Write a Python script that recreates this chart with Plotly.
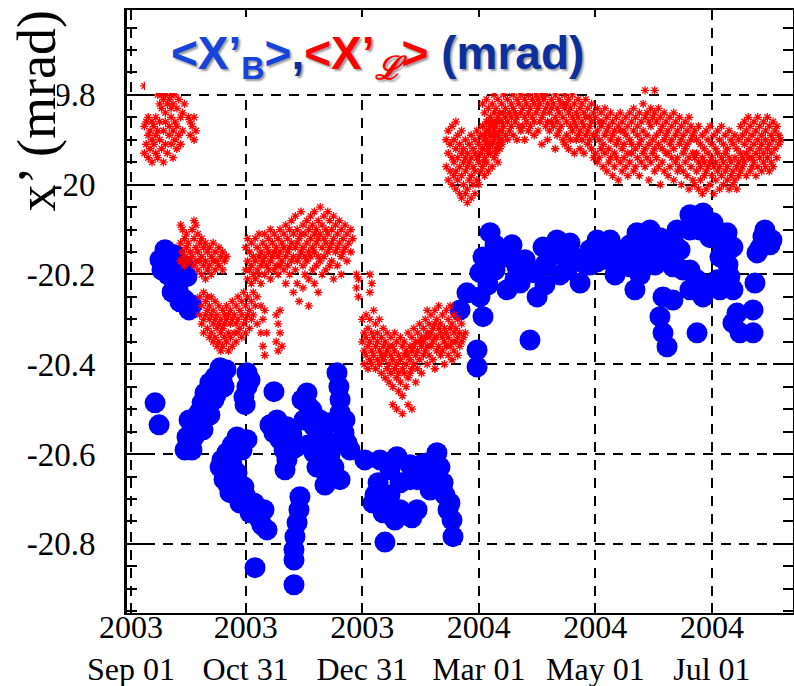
import plotly.graph_objects as go
import pandas as pd

BASE_DATE = "2003-09-01"   # day 0 of the day counts below

# ---- <X'_B> : blue points (day since 2003-09-01, value in mrad) ----
blue_day = [12.6, 14.7, 20.4, 16.2, 24.1, 29.3, 21.5, 25.6, 30.4, 17.8, 24.6,
            31.9, 33.0, 34.5, 35.6, 37.2, 38.7, 41.3, 44.0, 46.6, 47.6, 29.3, 30.4, 43.4, 48.7,
            55.5, 60.7, 50.2, 46.6, 48.7, 51.8, 57.0, 62.3, 67.5, 71.2, 64.4, 69.6, 59.1, 55.5, 50.2,
            60.7, 60.7, 59.1, 74.8, 64.9, 85.3,
            88.4, 87.9, 86.9, 85.8, 85.3, 85.3,
            76.4, 74.8, 81.6, 80.1, 81.6, 92.1, 93.1, 90.5, 95.8, 101.0, 95.8, 97.3, 102.6, 106.2,
            107.8, 108.8, 109.4, 109.4, 111.5, 113.0, 104.1, 122.4,
            132.9, 139.2, 129.3, 126.6, 131.9, 140.8, 149.7, 140.8, 149.7, 160.1, 161.7, 163.3,
            166.9, 168.0, 168.5, 154.9, 156.5, 146.0, 135.5,
            175.8, 172.2, 184.2, 181.1, 181.1, 208.8, 182.6,
            187.9, 184.2, 193.1, 182.6, 196.8, 202.0, 196.8, 203.6, 212.5, 210.4, 215.6, 219.3,
            229.7, 228.2, 235.0, 240.2, 236.5, 247.0, 252.2, 257.5, 264.8, 271.6, 271.6, 261.1,
            267.9, 285.7, 299.3, 304.6, 292.5, 287.3, 283.6, 288.9, 311.9, 315.0, 308.2, 296.2,
            292.5, 299.3, 306.7, 313.4, 315.0, 330.7, 327.6, 326.5, 263.7, 278.4, 283.6, 276.8,
            278.4, 280.5, 296.2, 317.1, 325.5, 318.7, 325.5, 315.0, 243.9, 250.7, 274.2, 334.4,
            # second reading of the dense blobs
            15.2, 23.0, 27.2, 19.4, 24.6, 28.3, 31.9,
            28.3, 30.9, 34.0, 36.1, 39.2, 40.3, 42.4, 45.5, 49.7, 37.7, 41.3, 44.5,
            52.9, 58.1, 47.6, 52.9, 50.8, 55.0, 60.2, 65.4, 68.5, 59.7, 62.3, 59.7,
            72.7, 78.0, 84.2, 85.8, 80.6, 94.7, 98.9, 99.9, 104.1, 106.7, 112.0, 114.6, 109.4, 101.5, 92.6, 89.5,
            135.5, 130.3, 146.0, 153.9, 135.5, 151.8, 158.0, 164.3, 165.9, 127.7, 138.1, 147.0,
            190.5, 199.4, 206.2, 200.9, 216.6, 224.5, 232.3, 222.9, 243.9, 249.2, 257.0, 261.1,
            266.4, 276.8, 281.0, 292.5, 297.7, 303.0, 309.8, 312.4, 292.5, 300.4, 308.2,
            331.7, 335.4, 329.2, 190.5, 186.8,
            216.6, 224.5, 240.2, 253.3, 266.4, 274.2, 284.7]
blue_val = [-20.486, -20.535, -20.163, -20.190, -20.196, -20.205, -20.239, -20.261, -20.279, -20.145, -20.172,
            -20.591, -20.562, -20.530, -20.508, -20.486, -20.464, -20.441, -20.428, -20.408, -20.435, -20.562, -20.524, -20.479, -20.450,
            -20.562, -20.568, -20.597, -20.629, -20.657, -20.686, -20.709, -20.731, -20.747, -20.769, -20.709, -20.724, -20.673, -20.642, -20.642,
            -20.419, -20.450, -20.473, -20.461, -20.853, -20.891,
            -20.695, -20.724, -20.753, -20.784, -20.813, -20.836,
            -20.524, -20.553, -20.539, -20.591, -20.613, -20.464, -20.495, -20.524, -20.539, -20.562, -20.597, -20.629, -20.651, -20.629,
            -20.419, -20.450, -20.479, -20.508, -20.553, -20.575, -20.530, -20.613,
            -20.796, -20.606, -20.664, -20.709, -20.731, -20.724, -20.724, -20.664, -20.657, -20.597, -20.629, -20.664,
            -20.709, -20.747, -20.784, -20.620, -20.680, -20.624, -20.691,
            -20.241, -20.279, -20.294, -20.368, -20.406, -20.346, -20.250,
            -20.107, -20.161, -20.161, -20.196, -20.161, -20.183, -20.234, -20.219, -20.250, -20.196, -20.139, -20.161,
            -20.130, -20.190, -20.219, -20.145, -20.174, -20.130, -20.161, -20.145, -20.107, -20.101, -20.161, -20.183,
            -20.130, -20.101, -20.063, -20.085, -20.101, -20.145, -20.183, -20.190, -20.107, -20.139, -20.161, -20.212,
            -20.234, -20.250, -20.212, -20.205, -20.234, -20.116, -20.152, -20.219, -20.234, -20.250, -20.257, -20.294,
            -20.330, -20.361, -20.330, -20.286, -20.279, -20.330, -20.330, -20.308, -20.172, -20.123, -20.134, -20.134,
            -20.167, -20.156, -20.179, -20.201, -20.234, -20.257, -20.268,
            -20.591, -20.568, -20.546, -20.524, -20.502, -20.468, -20.457, -20.435, -20.412, -20.546, -20.513, -20.468,
            -20.580, -20.591, -20.613, -20.624, -20.668, -20.691, -20.713, -20.729, -20.758, -20.691, -20.435, -20.490,
            -20.535, -20.568, -20.557, -20.586, -20.635, -20.502, -20.524, -20.591, -20.602, -20.579, -20.524, -20.591, -20.657, -20.669, -20.580, -20.479,
            -20.635, -20.613, -20.657, -20.657, -20.735, -20.624, -20.635, -20.691, -20.724, -20.691, -20.747, -20.742,
            -20.134, -20.134, -20.167, -20.212, -20.178, -20.156, -20.163, -20.123, -20.123, -20.167, -20.172, -20.134,
            -20.163, -20.118, -20.156, -20.067, -20.101, -20.118, -20.134, -20.178, -20.190, -20.223, -20.234,
            -20.101, -20.123, -20.141, -20.190, -20.223,
            -20.223, -20.201, -20.179, -20.201, -20.201, -20.179, -20.134]

# ---- <X'_L> : red points, (day since 2003-09-01, [values on that day]) ----
red_c1 = [(7, [-19.78, -19.87, -19.93]), (8, [-19.86, -19.91]), (9, [-19.89, -19.94, -19.85]),
          (10, [-19.88, -19.92]), (11, [-19.86, -19.95, -19.90]), (12, [-19.91, -19.87]),
          (13, [-19.89, -19.93, -19.85]), (14, [-19.80, -19.88, -19.94]), (15, [-19.79, -19.82, -19.90, -19.86]),
          (16, [-19.80, -19.83, -19.92]), (17, [-19.78, -19.81, -19.88, -19.95]), (18, [-19.80, -19.84, -19.86, -19.91]),
          (19, [-19.79, -19.82, -19.93]), (20, [-19.81, -19.87, -19.89]), (21, [-19.80, -19.83, -19.91, -19.85]),
          (22, [-19.82, -19.88, -19.94]), (23, [-19.80, -19.86, -19.90]), (24, [-19.83, -19.87, -19.92]),
          (25, [-19.81, -19.89]), (26, [-19.85, -19.91]), (27, [-19.84, -19.88]), (28, [-19.82]),
          (30, [-19.85]), (31, [-19.86, -19.89]), (32, [-19.87]), (33, [-19.85, -19.90]), (34, [-19.88])]
red_c2 = [(26, [-20.09, -20.13, -20.17]), (27, [-20.10, -20.15]), (28, [-20.12, -20.16, -20.18]),
          (29, [-20.11, -20.14]), (30, [-20.13, -20.17]), (31, [-20.15]), (32, [-20.10, -20.16]),
          (33, [-20.08, -20.12, -20.18]), (34, [-20.09, -20.14, -20.17]), (35, [-20.11, -20.15, -20.19]),
          (36, [-20.13, -20.17]), (37, [-20.12, -20.16, -20.20]), (38, [-20.14, -20.18]),
          (39, [-20.13, -20.17, -20.21]), (40, [-20.15, -20.19]), (41, [-20.14, -20.18]),
          (42, [-20.16, -20.20]), (43, [-20.13, -20.17]), (44, [-20.15, -20.19]), (45, [-20.17]),
          (46, [-20.14, -20.18]), (47, [-20.16]), (48, [-20.15, -20.19]), (49, [-20.17]), (50, [-20.16])]
red_c3 = [(36, [-20.25, -20.29]), (37, [-20.27, -20.31]), (38, [-20.24, -20.30, -20.33]), (39, [-20.26, -20.29]),
          (40, [-20.28, -20.32, -20.25]), (41, [-20.27, -20.30, -20.34]), (42, [-20.25, -20.29, -20.33]),
          (43, [-20.28, -20.31, -20.35]), (44, [-20.26, -20.30, -20.34]), (45, [-20.29, -20.32, -20.36]),
          (46, [-20.27, -20.31, -20.35]), (47, [-20.30, -20.33, -20.37]), (48, [-20.28, -20.32, -20.36]),
          (49, [-20.29, -20.34, -20.31]), (50, [-20.27, -20.30, -20.35]), (51, [-20.29, -20.33, -20.37]),
          (52, [-20.28, -20.31, -20.34]), (53, [-20.26, -20.30, -20.36]), (54, [-20.29, -20.33]),
          (55, [-20.27, -20.31, -20.35]), (56, [-20.25, -20.30, -20.33]), (57, [-20.28, -20.32]),
          (58, [-20.26, -20.29, -20.34]), (59, [-20.24, -20.31]), (60, [-20.27, -20.30, -20.33]),
          (61, [-20.25, -20.29]), (62, [-20.28, -20.32]), (63, [-20.26, -20.30]), (64, [-20.24, -20.29]),
          (65, [-20.27]), (66, [-20.25, -20.31]), (68, [-20.27, -20.33]), (69, [-20.30, -20.36]),
          (70, [-20.28, -20.38]), (71, [-20.33]), (76, [-20.29, -20.35]), (77, [-20.31, -20.37]),
          (78, [-20.28, -20.33]), (79, [-20.36])]
red_c4 = [(60, [-20.14, -20.19]), (61, [-20.12, -20.17, -20.21]), (62, [-20.15, -20.19]),
          (63, [-20.13, -20.18, -20.22]), (64, [-20.16, -20.20]), (65, [-20.12, -20.17, -20.21]),
          (66, [-20.14, -20.19]), (67, [-20.11, -20.16, -20.20]), (68, [-20.15, -20.18, -20.22]),
          (69, [-20.13, -20.17]), (70, [-20.11, -20.16, -20.20]), (71, [-20.14, -20.18]),
          (72, [-20.12, -20.15, -20.19]), (73, [-20.10, -20.17, -20.21]), (74, [-20.13, -20.16]),
          (75, [-20.11, -20.15, -20.19]), (76, [-20.14, -20.18]), (77, [-20.12, -20.16, -20.20]),
          (78, [-20.10, -20.15, -20.18]), (79, [-20.13, -20.17]), (80, [-20.11, -20.14, -20.19]),
          (81, [-20.09, -20.16, -20.22]), (82, [-20.12, -20.15, -20.18]), (83, [-20.10, -20.14, -20.20]),
          (84, [-20.08, -20.13, -20.17]), (85, [-20.11, -20.16, -20.24]), (86, [-20.07, -20.14, -20.19]),
          (87, [-20.10, -20.13, -20.17, -20.22]), (88, [-20.12, -20.16, -20.26]), (89, [-20.06, -20.11, -20.15]),
          (90, [-20.09, -20.14, -20.18, -20.23]), (91, [-20.11, -20.16, -20.20]), (92, [-20.08, -20.13, -20.17]),
          (93, [-20.10, -20.15, -20.21, -20.27]), (94, [-20.07, -20.12, -20.16]), (95, [-20.09, -20.14, -20.19]),
          (96, [-20.06, -20.11, -20.15, -20.22]), (97, [-20.10, -20.13, -20.18]), (98, [-20.08, -20.12, -20.16, -20.24]),
          (99, [-20.05, -20.11, -20.17]), (100, [-20.09, -20.14, -20.20]), (101, [-20.07, -20.12, -20.16]),
          (102, [-20.10, -20.13, -20.19]), (103, [-20.06, -20.11, -20.15]), (104, [-20.08, -20.14, -20.18]),
          (105, [-20.10, -20.13, -20.17]), (106, [-20.07, -20.12, -20.21]), (107, [-20.09, -20.15]),
          (108, [-20.11, -20.14, -20.18]), (109, [-20.08, -20.13]), (110, [-20.10, -20.16, -20.20]),
          (111, [-20.12, -20.15]), (112, [-20.09, -20.14]), (113, [-20.11, -20.17]), (114, [-20.13]),
          (115, [-20.10, -20.15]), (116, [-20.12]), (118, [-20.20, -20.23]), (119, [-20.21, -20.25]),
          (125, [-20.20, -20.24]), (126, [-20.22])]
red_c5 = [(121, [-20.30, -20.35]), (122, [-20.33, -20.37, -20.40]), (123, [-20.29, -20.34, -20.38]),
          (124, [-20.32, -20.36, -20.41]), (125, [-20.30, -20.35, -20.39]), (126, [-20.33, -20.37, -20.40]),
          (127, [-20.28, -20.34, -20.38]), (128, [-20.31, -20.36, -20.41]), (129, [-20.33, -20.35, -20.39]),
          (130, [-20.30, -20.37, -20.40]), (131, [-20.34, -20.38, -20.42]), (132, [-20.32, -20.36, -20.39]),
          (133, [-20.35, -20.38, -20.43]), (134, [-20.33, -20.37, -20.41]), (135, [-20.36, -20.40, -20.44]),
          (136, [-20.34, -20.38, -20.42]), (137, [-20.36, -20.39, -20.45, -20.49]), (138, [-20.33, -20.37, -20.41]),
          (139, [-20.35, -20.40, -20.43, -20.50]), (140, [-20.38, -20.42, -20.46]), (141, [-20.34, -20.39, -20.44]),
          (142, [-20.36, -20.41, -20.47, -20.51]), (143, [-20.35, -20.38, -20.42]), (144, [-20.37, -20.40, -20.45]),
          (145, [-20.33, -20.38, -20.43, -20.49]), (146, [-20.36, -20.39, -20.42]), (147, [-20.34, -20.37, -20.41, -20.50]),
          (148, [-20.32, -20.36, -20.40]), (149, [-20.35, -20.38, -20.44]), (150, [-20.33, -20.37, -20.41]),
          (151, [-20.31, -20.35, -20.39]), (152, [-20.34, -20.36, -20.42]), (153, [-20.32, -20.35, -20.38]),
          (154, [-20.30, -20.34, -20.37]), (155, [-20.28, -20.33, -20.36, -20.40]), (156, [-20.31, -20.34, -20.38]),
          (157, [-20.29, -20.33, -20.36]), (158, [-20.32, -20.35, -20.39]), (159, [-20.28, -20.31, -20.34, -20.41]),
          (160, [-20.30, -20.34, -20.37]), (161, [-20.27, -20.32, -20.36]), (162, [-20.31, -20.33, -20.38]),
          (163, [-20.29, -20.34, -20.37]), (164, [-20.32, -20.35, -20.40]), (165, [-20.28, -20.33, -20.36]),
          (166, [-20.30, -20.34, -20.38]), (167, [-20.27, -20.32, -20.36]), (168, [-20.31, -20.35, -20.39]),
          (169, [-20.29, -20.33, -20.37]), (170, [-20.32, -20.35]), (171, [-20.30, -20.34, -20.38]),
          (172, [-20.33, -20.36]), (173, [-20.31, -20.35]), (174, [-20.34]), (175, [-20.33])]
red_c6 = [(165, [-19.90, -19.96]), (166, [-19.88, -19.93, -19.99]), (167, [-19.91, -19.97]),
          (168, [-19.87, -19.94, -20.00]), (169, [-19.90, -19.95, -19.98]), (170, [-19.86, -19.92, -19.97, -20.01]),
          (171, [-19.89, -19.94, -19.99]), (172, [-19.91, -19.96, -20.02]), (173, [-19.88, -19.93, -19.98, -20.03]),
          (174, [-19.92, -19.95, -20.00]), (175, [-19.90, -19.94, -19.97, -20.02]), (176, [-19.93, -19.96, -20.01, -20.04]),
          (177, [-19.91, -19.95, -19.99]), (178, [-19.89, -19.94, -19.98, -20.03]), (179, [-19.92, -19.96, -20.00]),
          (180, [-19.90, -19.93, -19.97, -20.02]), (181, [-19.88, -19.94, -19.99]), (182, [-19.91, -19.95, -20.00]),
          (183, [-19.89, -19.93, -19.97]), (184, [-19.87, -19.92, -19.96]), (185, [-19.90, -19.94, -19.98]),
          (186, [-19.88, -19.91, -19.95]), (187, [-19.86, -19.92, -19.97]), (188, [-19.89, -19.93]),
          (189, [-19.87, -19.91, -19.96]), (190, [-19.90, -19.94]), (191, [-19.86, -19.89, -19.93]),
          (192, [-19.91, -19.95]), (193, [-19.88, -19.92]), (194, [-19.86, -19.90])]
red_c7 = [(184, [-19.82, -19.87, -19.92]), (185, [-19.84, -19.89, -19.95]), (186, [-19.81, -19.86, -19.90]),
          (187, [-19.83, -19.88, -19.93]), (188, [-19.85, -19.87, -19.91]), (189, [-19.82, -19.86, -19.89]),
          (190, [-19.80, -19.84, -19.88]), (191, [-19.83, -19.87, -19.92]), (192, [-19.81, -19.85, -19.89]),
          (193, [-19.84, -19.86, -19.90]), (194, [-19.82, -19.88, -19.91]), (195, [-19.80, -19.84, -19.87]),
          (196, [-19.83, -19.85, -19.89]), (197, [-19.81, -19.86, -19.90]), (198, [-19.79, -19.84, -19.88]),
          (199, [-19.82, -19.85, -19.87]), (200, [-19.80, -19.83, -19.89]), (201, [-19.78, -19.84, -19.86]),
          (202, [-19.81, -19.85, -19.90]), (203, [-19.79, -19.82, -19.87]), (204, [-19.80, -19.84, -19.88]),
          (205, [-19.79, -19.83, -19.87]), (206, [-19.81, -19.85, -19.90]), (207, [-19.78, -19.82, -19.86]),
          (208, [-19.80, -19.84, -19.88]), (209, [-19.77, -19.83, -19.87]), (210, [-19.79, -19.81, -19.85]),
          (211, [-19.82, -19.86, -19.89]), (212, [-19.78, -19.80, -19.84]), (213, [-19.81, -19.83, -19.88]),
          (214, [-19.79, -19.82, -19.86]), (215, [-19.80, -19.85, -19.91]), (216, [-19.78, -19.81, -19.84]),
          (217, [-19.80, -19.83, -19.87]), (218, [-19.82, -19.86, -19.90]), (219, [-19.79, -19.84, -19.88]),
          (220, [-19.81, -19.83, -19.86]), (221, [-19.78, -19.82, -19.87]), (222, [-19.80, -19.85, -19.92]),
          (223, [-19.83, -19.86, -19.89]), (224, [-19.81, -19.84, -19.88]), (225, [-19.79, -19.82, -19.87]),
          (226, [-19.82, -19.85, -19.90]), (227, [-19.80, -19.83, -19.91]), (228, [-19.82, -19.86, -19.89]),
          (229, [-19.81, -19.84, -19.92]), (230, [-19.83, -19.87, -19.90]), (231, [-19.80, -19.85, -19.88]),
          (232, [-19.82, -19.86, -19.93]), (233, [-19.84, -19.87, -19.90]), (234, [-19.81, -19.85, -19.89]),
          (235, [-19.83, -19.88, -19.92]), (236, [-19.82, -19.86, -19.90]), (237, [-19.84, -19.87, -19.93]),
          (238, [-19.81, -19.85, -19.89]), (239, [-19.83, -19.88, -19.91]), (240, [-19.85, -19.87, -19.90]),
          (241, [-19.82, -19.86, -19.92]), (242, [-19.84, -19.89, -19.94]),
          (243, [-19.85, -19.89, -19.93]), (244, [-19.83, -19.88, -19.95]), (245, [-19.86, -19.90, -19.94]),
          (246, [-19.84, -19.87, -19.92]), (247, [-19.86, -19.91, -19.96]), (248, [-19.83, -19.89, -19.93]),
          (249, [-19.85, -19.88, -19.97]), (250, [-19.87, -19.92, -19.95]), (251, [-19.84, -19.90, -19.94]),
          (252, [-19.86, -19.89, -19.98]), (253, [-19.88, -19.93, -19.96]), (254, [-19.85, -19.91, -19.94]),
          (255, [-19.87, -19.90, -19.99]), (256, [-19.84, -19.88, -19.95]), (257, [-19.86, -19.92, -19.97]),
          (258, [-19.88, -19.91, -19.94]), (259, [-19.85, -19.89, -19.96]), (260, [-19.87, -19.93, -19.98]),
          (261, [-19.84, -19.90, -19.95]), (262, [-19.86, -19.91, -19.93]), (263, [-19.83, -19.88, -19.97]),
          (264, [-19.85, -19.92, -19.96]), (265, [-19.87, -19.89, -19.94]), (266, [-19.84, -19.91, -19.98]),
          (267, [-19.86, -19.90, -19.95]), (268, [-19.82, -19.88, -19.93]), (269, [-19.79, -19.85, -19.92, -19.96]),
          (270, [-19.84, -19.89, -19.94]), (271, [-19.86, -19.91, -19.99]), (272, [-19.83, -19.87, -19.95]),
          (273, [-19.85, -19.90, -19.93]), (274, [-19.79, -19.84, -19.92, -19.97]), (275, [-19.86, -19.89, -19.94]),
          (276, [-19.83, -19.91, -19.96]), (277, [-19.85, -19.88, -20.00]), (278, [-19.87, -19.92, -19.95]),
          (279, [-19.84, -19.90, -19.97]), (280, [-19.86, -19.89, -19.93]), (281, [-19.88, -19.93, -19.98]),
          (282, [-19.85, -19.91, -19.96]), (283, [-19.87, -19.90, -19.94]), (284, [-19.84, -19.92, -19.99]),
          (285, [-19.86, -19.89, -19.95]), (286, [-19.88, -19.94, -19.97]), (287, [-19.85, -19.91, -19.96]),
          (288, [-19.87, -19.90, -20.00]), (289, [-19.89, -19.93, -19.97]), (290, [-19.86, -19.92, -19.95]),
          (291, [-19.88, -19.91, -19.98]), (292, [-19.85, -19.94, -20.01]), (293, [-19.87, -19.90, -19.96]),
          (294, [-19.89, -19.93, -19.99]),
          (295, [-19.88, -19.94, -20.00]), (296, [-19.90, -19.93, -19.97]), (297, [-19.87, -19.95, -20.01]),
          (298, [-19.91, -19.96, -19.99]), (299, [-19.89, -19.94, -20.02]), (300, [-19.92, -19.95, -19.98]),
          (301, [-19.88, -19.97, -20.01]), (302, [-19.90, -19.93, -19.96]), (303, [-19.87, -19.95, -20.00]),
          (304, [-19.91, -19.94, -19.98]), (305, [-19.89, -19.96, -20.02]), (306, [-19.92, -19.95, -19.99]),
          (307, [-19.88, -19.93, -19.97]), (308, [-19.90, -19.96, -20.01]), (309, [-19.87, -19.94, -19.98]),
          (310, [-19.91, -19.95, -20.00]), (311, [-19.89, -19.93, -19.97]), (312, [-19.92, -19.96, -19.99]),
          (313, [-19.88, -19.94, -20.01]), (314, [-19.90, -19.95, -19.98]), (315, [-19.91, -19.97, -20.00]),
          (316, [-19.89, -19.94, -19.99]), (317, [-19.92, -19.96, -20.01]), (318, [-19.90, -19.95, -19.98]),
          (319, [-19.87, -19.93, -19.97]), (320, [-19.89, -19.94, -19.96]), (321, [-19.86, -19.91, -19.95]),
          (322, [-19.88, -19.93, -19.98]), (323, [-19.85, -19.90, -19.94]), (324, [-19.87, -19.92, -19.97]),
          (325, [-19.89, -19.94, -19.96]), (326, [-19.86, -19.91, -19.95]), (327, [-19.88, -19.93, -19.98]),
          (328, [-19.85, -19.90, -19.96]), (329, [-19.87, -19.92, -19.94]), (330, [-19.89, -19.91, -19.97]),
          (331, [-19.86, -19.93, -19.95]), (332, [-19.88, -19.90, -19.96]), (333, [-19.85, -19.92, -19.94]),
          (334, [-19.87, -19.91, -19.97]), (335, [-19.89, -19.93, -19.95]), (336, [-19.86, -19.90, -19.96]),
          (337, [-19.88, -19.92]), (338, [-19.87, -19.94]), (339, [-19.89, -19.91]), (340, [-19.90])]

x_tick_dates = ["2003-09-01", "2003-10-31", "2003-12-31", "2004-03-01", "2004-05-01", "2004-07-01"]
x_tick_text = ["2003<br>Sep 01", "2003<br>Oct 31", "2003<br>Dec 31",
               "2004<br>Mar 01", "2004<br>May 01", "2004<br>Jul 01"]
y_tick_vals = [-19.8, -20.0, -20.2, -20.4, -20.6, -20.8]
y_tick_text = ["-19.8", "-20", "-20.2", "-20.4", "-20.6", "-20.8"]

base = pd.Timestamp(BASE_DATE)
blue_x = [base + pd.Timedelta(days=d) for d in blue_day]

red_x, red_y = [], []
for cluster in (red_c1, red_c2, red_c3, red_c4, red_c5, red_c6, red_c7):
    for day, vals in cluster:
        for v in vals:
            red_x.append(base + pd.Timedelta(days=day))
            red_y.append(v)

fig = go.Figure()
fig.add_trace(go.Scatter(x=blue_x, y=blue_val, mode="markers", showlegend=False,
                         marker=dict(symbol="circle", size=21, color="#0000ff", line=dict(width=0))))
fig.add_trace(go.Scatter(x=red_x, y=red_y, mode="markers", showlegend=False,
                         marker=dict(symbol="asterisk-open", size=7, color="#ff0000",
                                     line=dict(color="#ff0000", width=1.3))))

# plot-area geometry in pixels (for placing the overlays)
L, R, T, B = 127, 793, 10, 613
def px(x): return (x - L) / (R - L)
def py(y): return (B - y) / (B - T)

fig.update_layout(
    width=794, height=686,
    margin=dict(l=L, r=794 - R, t=T, b=686 - B),
    paper_bgcolor="white", plot_bgcolor="white",
    xaxis=dict(type="date", range=["2003-08-29 22:00", "2004-08-12 10:00"], automargin=False,
               tickvals=x_tick_dates, ticktext=x_tick_text,
               tickfont=dict(family="Liberation Serif", size=32, color="black"),
               ticks="inside", ticklen=10, tickwidth=2, tickcolor="black",
               showline=True, linewidth=2, linecolor="black", mirror="allticks",
               showgrid=True, gridcolor="black", gridwidth=2, griddash="10px,8px",
               zeroline=False, ticklabelstandoff=-15),
    yaxis=dict(range=[-20.954, -19.611], automargin=False,
               tickvals=y_tick_vals, ticktext=y_tick_text,
               tickfont=dict(family="Liberation Serif", size=33, color="black"),
               ticks="inside", ticklen=20, tickwidth=2, tickcolor="black",
               minor=dict(dtick=0.05, tick0=-20, ticks="inside", ticklen=10, tickwidth=2,
                          tickcolor="black", showgrid=False),
               showline=True, linewidth=3, linecolor="black", mirror="allticks",
               showgrid=True, gridcolor="black", gridwidth=2, griddash="10px,8px",
               zeroline=False, ticklabelstandoff=22),
    shapes=[
        dict(type="rect", xref="paper", yref="paper", x0=px(145), x1=px(602), y0=py(93), y1=py(17),
             fillcolor="white", line=dict(width=0), layer="above"),
        dict(type="rect", xref="paper", yref="paper", x0=px(5), x1=px(57), y0=py(165), y1=py(4),
             fillcolor="white", line=dict(width=0), layer="above"),
    ],
    annotations=[
        dict(xref="paper", yref="paper", x=px(377), y=py(57), xanchor="center", yanchor="middle",
             showarrow=False,
             text=("<span style='color:#1544dc'>&lt;X’<sub>B</sub>&gt;</span>"
                   "<span style='color:#0b2f9f'>,</span>"
                   "<span style='color:#ff0000'>&lt;X’<sub><i>ℒ</i></sub>&gt;</span>"
                   "<span style='color:#0b2f9f'> (mrad)</span>"),
             font=dict(family="Liberation Sans", size=46, weight="bold",
                       shadow="2px 2px 2px rgba(90,90,90,0.6)")),
        dict(xref="paper", yref="paper", x=px(37), y=py(9), xanchor="center", yanchor="top",
             showarrow=False, textangle=-90, text="x’ (mrad)",
             font=dict(family="Liberation Serif", size=54, color="black")),
    ],
)

fig.write_html("out.html")
